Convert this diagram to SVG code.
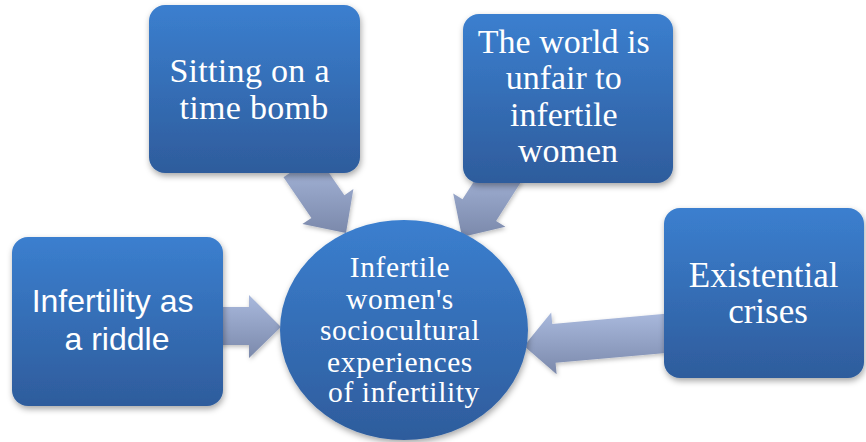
<svg xmlns="http://www.w3.org/2000/svg" width="866" height="442" viewBox="0 0 866 442">
  <defs>
    <linearGradient id="boxGrad" x1="0" y1="0" x2="0" y2="1">
      <stop offset="0" stop-color="#3b7fcf"/>
      <stop offset="1" stop-color="#2e5c9c"/>
    </linearGradient>
    <linearGradient id="arrowGrad" x1="0" y1="0" x2="0" y2="1">
      <stop offset="0" stop-color="#a9b9dd"/>
      <stop offset="1" stop-color="#7b89ab"/>
    </linearGradient>
    <filter id="shadow" x="-10%" y="-10%" width="120%" height="125%">
      <feDropShadow dx="1" dy="3" stdDeviation="3" flood-color="#000" flood-opacity="0.35"/>
    </filter>
    <filter id="ashadow" x="-10%" y="-10%" width="120%" height="125%">
      <feDropShadow dx="1" dy="2" stdDeviation="2" flood-color="#000" flood-opacity="0.25"/>
    </filter>
  </defs>
  <style>
    .box { fill: url(#boxGrad); filter: url(#shadow); }
    .arrow { fill: url(#arrowGrad); filter: url(#ashadow); }
    .serif { font-family: "Liberation Serif", "Times New Roman", serif; fill: #ffffff; text-anchor: middle; }
    .sans { font-family: "Liberation Sans", Arial, sans-serif; fill: #ffffff; text-anchor: middle; }
  </style>

  <g id="connectors">
    <polygon class="arrow" points="215,307 249,307 249,295 281,327 249,358 249,345 215,345"/>
    <polygon class="arrow" points="668.3,313.6 552.2,323.9 551.2,312.4 524,346 556.6,374.2 555.6,362.7 671.7,352.4"/>
    <polygon class="arrow" points="283.5,177.3 311.4,217.9 302.4,224.1 346,233 353.4,189.1 344.4,195.3 316.5,154.7"/>
    <polygon class="arrow" points="488.2,159.2 462.5,199.3 453.2,193.4 462,237 505.4,226.8 496.1,220.9 521.8,180.8"/>
  </g>

  <g id="node-center">
    <ellipse class="box" cx="404" cy="330" rx="124" ry="110"/>
    <text class="serif" font-size="29.5" letter-spacing="0.6">
      <tspan x="404" y="277">Infertile</tspan>
      <tspan x="404" y="309">women's</tspan>
      <tspan x="404" y="340">sociocultural</tspan>
      <tspan x="404" y="372">experiences</tspan>
      <tspan x="404" y="402">of infertility</tspan>
    </text>
  </g>

  <g id="node-timebomb">
    <rect class="box" x="149" y="5" width="211" height="168" rx="16" ry="16"/>
    <text class="serif" font-size="34" letter-spacing="0.3">
      <tspan x="254" y="82">Sitting on a</tspan>
      <tspan x="254" y="119">time bomb</tspan>
    </text>
  </g>

  <g id="node-unfair">
    <rect class="box" x="463" y="14" width="210" height="169" rx="16" ry="16"/>
    <text class="serif" font-size="34">
      <tspan x="568" y="53">The world is</tspan>
      <tspan x="568" y="89">unfair to</tspan>
      <tspan x="568" y="126">infertile</tspan>
      <tspan x="568" y="162">women</tspan>
    </text>
  </g>

  <g id="node-riddle">
    <rect class="box" x="12" y="237" width="211" height="169" rx="16" ry="16"/>
    <text class="sans" font-size="32">
      <tspan x="117" y="312">Infertility as</tspan>
      <tspan x="117" y="350">a riddle</tspan>
    </text>
  </g>

  <g id="node-existential">
    <rect class="box" x="664" y="208" width="200" height="170" rx="16" ry="16"/>
    <text class="serif" font-size="35">
      <tspan x="768" y="287">Existential</tspan>
      <tspan x="768" y="323">crises</tspan>
    </text>
  </g>
</svg>
